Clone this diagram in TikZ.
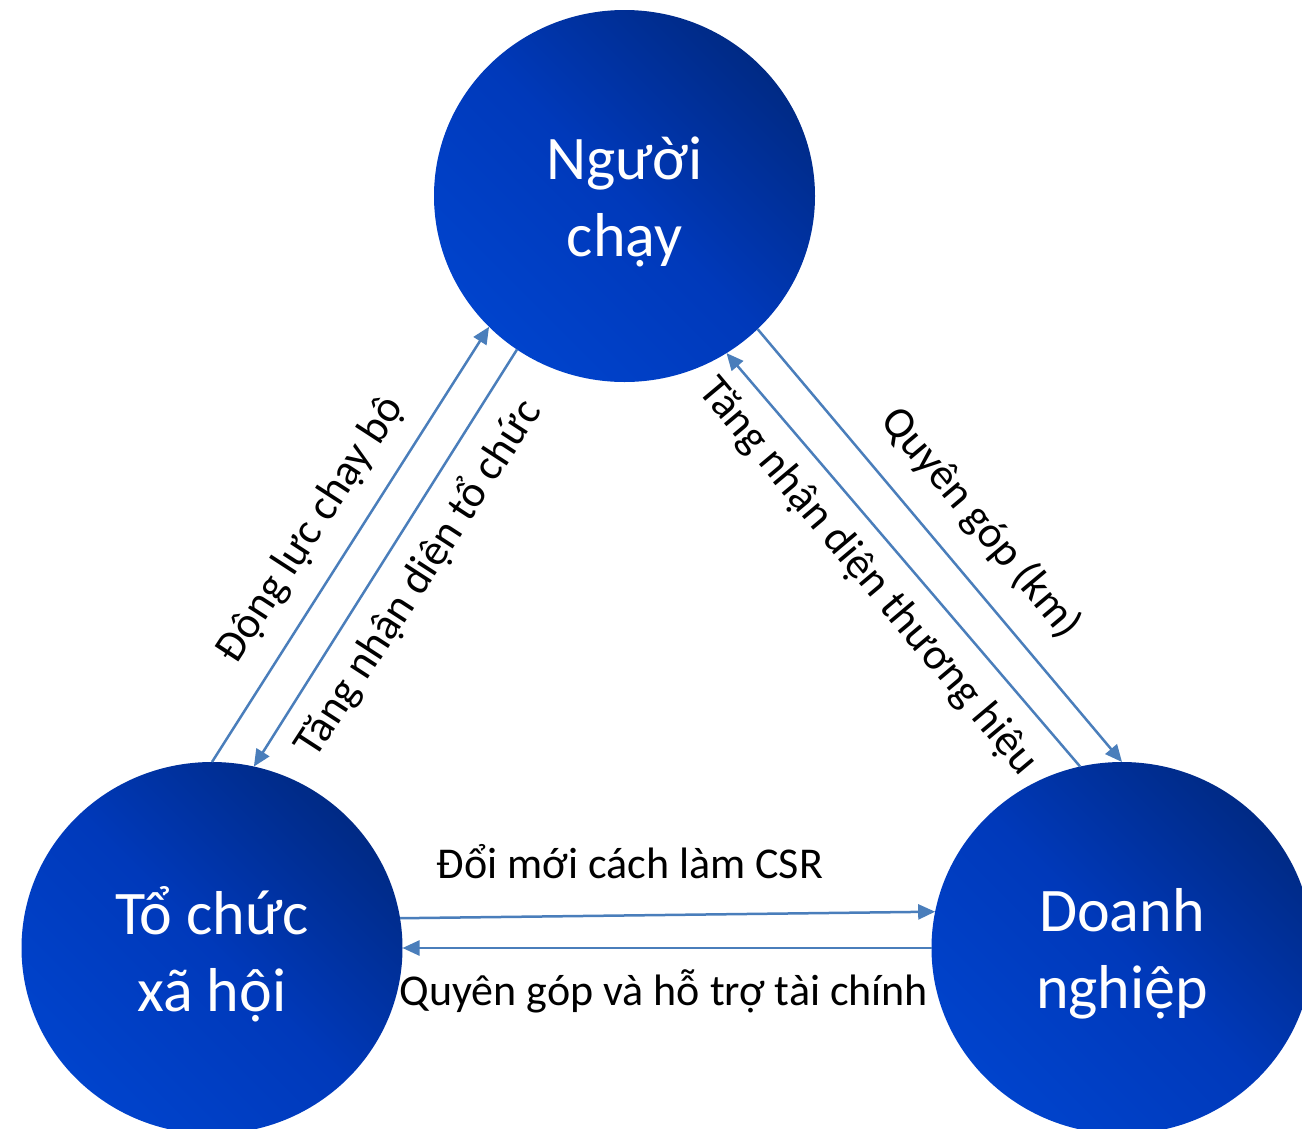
\documentclass[tikz,border=0pt]{standalone}
\usepackage{fontspec}
\setmainfont{Carlito}
\usetikzlibrary{arrows.meta,shapes.geometric}
\definecolor{arrowblue}{HTML}{4A7EBB}
\definecolor{navydark}{HTML}{002A85}
\definecolor{navymid}{HTML}{0039BA}
\definecolor{navylight}{HTML}{0043CC}
\begin{document}
\begin{tikzpicture}[x=1pt,y=-1pt,
  hub/.style={ellipse, minimum width=381pt, minimum height=372pt, inner sep=0pt, outer sep=0pt,
    top color=navydark, bottom color=navylight, middle color=navymid, shading angle=-45},
  hubtext/.style={text=white, font=\fontsize{62}{77}\selectfont, align=center, inner sep=0pt},
  flow/.style={draw=arrowblue, line width=2.5pt, -{Triangle[length=17pt,width=15pt]}},
  lbl/.style={font=\fontsize{44}{53}\selectfont, inner sep=0pt}]
\useasboundingbox (0,0) rectangle (1302,1128);
\clip (0,0) rectangle (1302,1128);
\fill[white] (0,0) rectangle (1302,1128);

\node[hub] (R) at (624.5,196) {};
\node[hub] (T) at (212,948) {};
\node[hub] (D) at (1122,948) {};
\node[hubtext] (Rt) at ([yshift=-6pt]R.center) {Người\\chạy};
\node[hubtext] (Tt) at ([yshift=-6pt]T.center) {Tổ chức\\xã hội};
\node[hubtext] (Dt) at ([yshift=-6pt]D.center) {Doanh\\nghiệp};

\draw[flow] (T.90) -- (R.224.5);
\draw[flow] (R.235.5) -- (T.77.1);
\draw[flow] (R.315.5) -- (D.90);
\draw[flow] (D.103.6) -- (R.303.9);
\draw[flow] (T.9.4) -- (D.169.6);
\draw[flow] (D.180) -- (T.0);

\node[lbl, rotate=57] (l1) at (311,530) {Động lực chạy bộ};
\node[lbl, rotate=57] (l2) at (418,578) {Tăng nhận diện tổ chức};
\node[lbl, rotate=-50] (l3) at (981,523) {Quyên góp (km)};
\node[lbl, rotate=-50] (l4) at (868,577) {Tăng nhận diện thương hiệu};
\node[lbl, anchor=base] (l5) at (630,878) {Đổi mới cách làm CSR};
\node[lbl, anchor=base] (l6) at (664,1005) {Quyên góp và hỗ trợ tài chính};
\end{tikzpicture}
\end{document}
